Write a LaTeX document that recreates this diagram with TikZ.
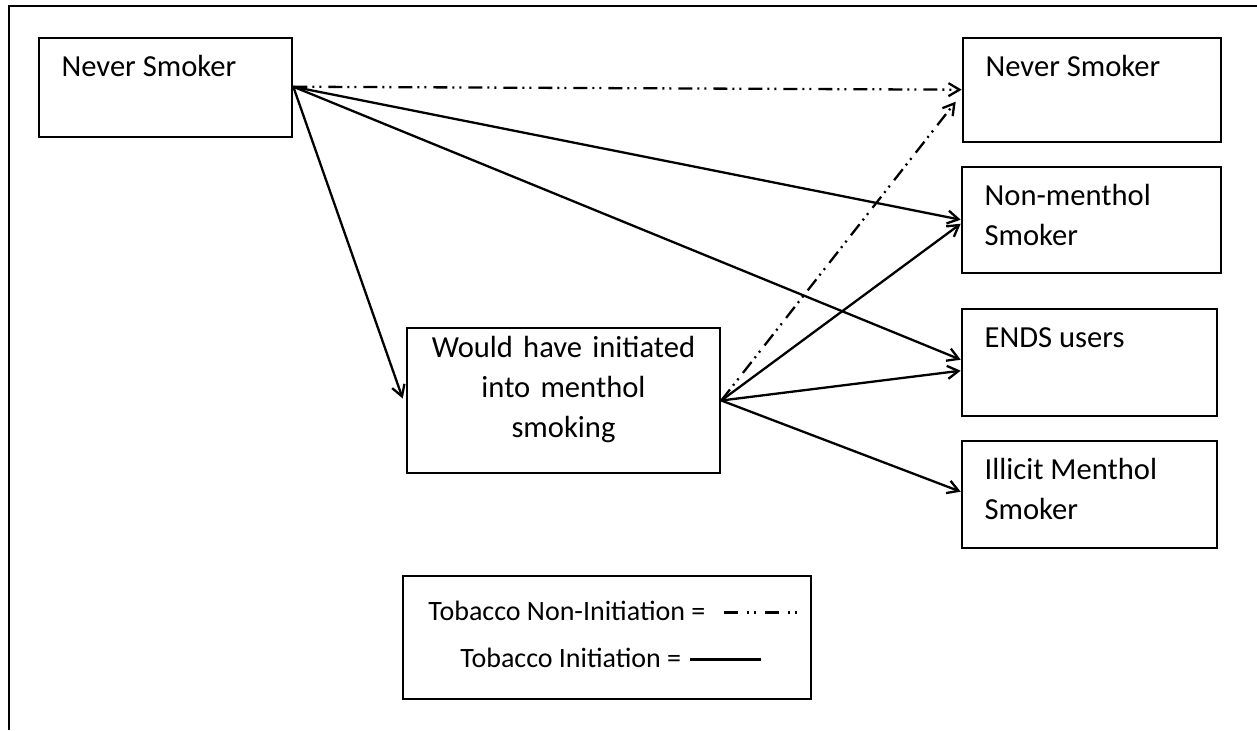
\documentclass[tikz,border=0pt]{standalone}
\usepackage{fontspec}
\setmainfont{Carlito}
\usetikzlibrary{arrows.meta,calc,fit}
\newcommand\dfont{\fontsize{15.3}{20}\selectfont}
\newcommand\lgfont{\fontsize{14}{18}\selectfont}
\begin{document}
\begin{tikzpicture}[x=0.5pt,y=-0.5pt,
  box/.style={draw, line width=1.3pt, inner sep=0pt},
  lbl/.style={anchor=base west, inner sep=0pt, align=left, font=\dfont, xshift=11.75pt, yshift=-20pt},
  lbltwo/.style={lbl, yshift=-20pt},
  conn/.style={line width=1.15pt, -{Straight Barb[length=5.5pt,width=6.5pt]}},
  init/.style={conn},
  noninit/.style={conn, dash pattern=on 7pt off 2.5pt on 1pt off 2.5pt on 1pt off 3.5pt},
  legnon/.style={line width=1.5pt, dash pattern=on 7pt off 4.5pt on 1pt off 2.5pt on 1pt off 4.5pt},
  legini/.style={line width=1.5pt}]
\useasboundingbox (0,0) rectangle (1257,730);
% outer frame
\draw[line width=1.1pt] (9,730) -- (9,6) -- (1257,6);
% boxes
\node[box, fit={(39,38)(292,137)}, label={[lbl]north west:Never Smoker}] (ns) {};
\node[box, fit={(963,38)(1221,142)}, label={[lbl]north west:Never Smoker}] (nsr) {};
\node[box, fit={(962,167)(1221,273)}, label={[lbltwo]north west:Non-menthol\\Smoker}] (nm) {};
\node[box, fit={(962,309)(1217,416)}, label={[lbl]north west:ENDS users}] (ends) {};
\node[box, fit={(962,441)(1217,548)}, label={[lbltwo]north west:Illicit Menthol\\Smoker}] (ill) {};
\node[box, fit={(407,328)(720,473)}, align=center, font=\dfont] (mid) {Would have initiated\\into menthol\\smoking};
% connectors from Never Smoker
\draw[noninit] ($(ns.north east)+(0,50)$) -- ($(nsr.north west)+(0,53)$);
\draw[init] ($(ns.north east)+(0,50)$) -- ($(nm.north west)+(0,54)$);
\draw[init] ($(ns.north east)+(0,50)$) -- ($(ends.north west)+(0,52)$);
\draw[init] ($(ns.north east)+(0,50)$) -- ($(mid.west)+(-3,-2)$);
% connectors from middle box
\draw[noninit] (mid.east) -- ($(nsr.north west)+(-6,65)$);
\draw[init] (mid.east) -- ($(nm.north west)+(0,58)$);
\draw[init] (mid.east) -- ($(ends.north west)+(0,63)$);
\draw[init] (mid.east) -- ($(ill.north west)+(0,52)$);
% legend
\node[box, fit={(403,576)(811,699)}] (leg) {};
\node[anchor=base west, inner sep=0pt, font=\lgfont] (l1) at (428,620) {Tobacco Non-Initiation =};
\node[anchor=base west, inner sep=0pt, font=\lgfont] (l2) at (460,667) {Tobacco Initiation =};
\draw[legnon] ([xshift=9pt,yshift=-1pt]l1.east) -- ++(74,0);
\draw[legini] ([xshift=4pt,yshift=-1pt]l2.east) -- ++(71,0);
\end{tikzpicture}
\end{document}
